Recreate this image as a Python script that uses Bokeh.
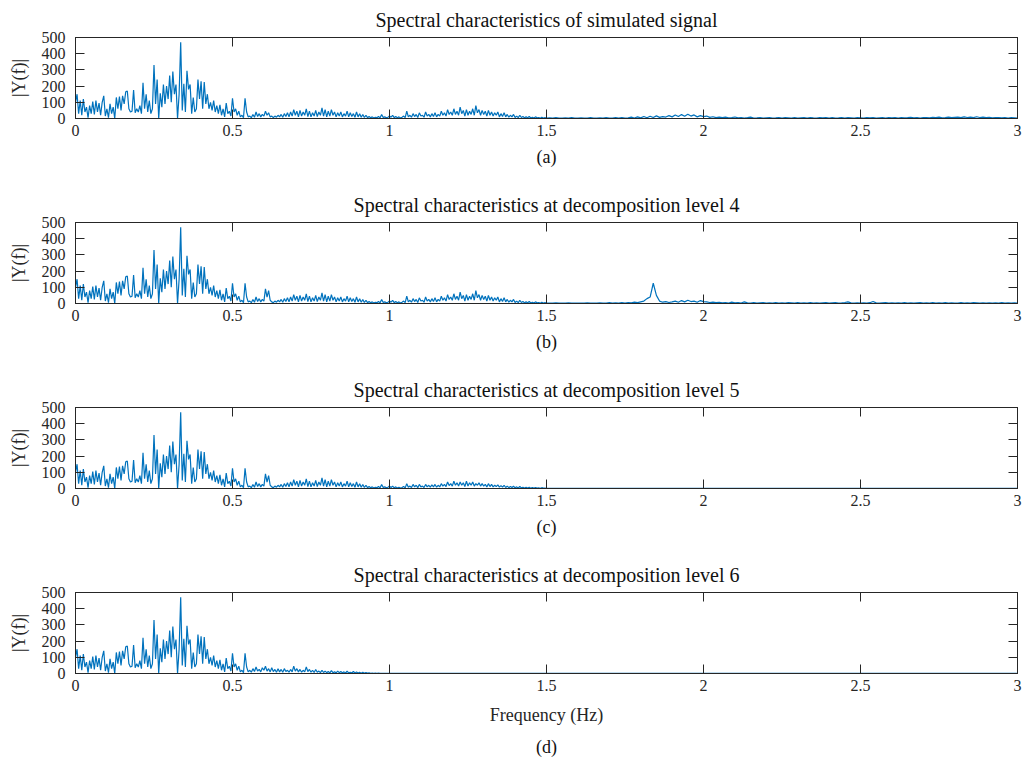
import numpy as np
from bokeh.plotting import figure
from bokeh.layouts import column
from bokeh.models import LinearAxis, Title, FixedTicker, Range1d
from bokeh.embed import file_html
from bokeh.resources import INLINE

# ---------------- data (|Y(f)|) ----------------
# 0.000 .. 0.550 Hz, step 0.005 (shared by all panels)
LOW = [100, 150, 30, 110, 20, 120, 40, 70, 5, 80,
       30, 105, 25, 110, 40, 95, 20, 100, 140, 15,
       60, 5, 90, 30, 70, 0, 130, 60, 135, 50,
       140, 90, 165, 170, 60, 40, 45, 175, 35, 60,
       40, 80, 30, 220, 60, 150, 40, 110, 30, 60,
       330, 90, 240, 0, 155, 70, 210, 90, 200, 120,
       265, 100, 290, 150, 210, 0, 150, 470, 50, 215,
       40, 295, 180, 210, 30, 130, 40, 60, 240, 120,
       230, 60, 225, 90, 150, 60, 100, 50, 110, 40,
       80, 30, 85, 20, 60, 10, 95, 30, 45, 15,
       125, 40, 60, 20, 45, 10, 20, 5, 125, 40,
       10]
# 0.555 .. 0.650 Hz
MID_HEAD_A = [15, 5, 25, 8, 40, 12, 30, 10, 25, 15, 45, 20, 35, 10, 15, 5, 15, 8, 20, 10]
MID_HEAD_BC = [15, 5, 25, 8, 40, 12, 30, 10, 25, 15, 90, 40, 80, 20, 10, 5, 15, 8, 20, 10]
# 0.655 .. 1.000 Hz (panels a, b, c)
MID_SHARED = [25, 8, 30, 12, 35, 10, 40, 15, 55, 20,
              45, 10, 50, 15, 40, 20, 60, 12, 45, 10,
              35, 15, 50, 12, 40, 20, 65, 15, 55, 10,
              45, 15, 55, 20, 40, 10, 35, 15, 40, 10,
              30, 15, 45, 10, 35, 12, 30, 8, 40, 10,
              30, 8, 25, 6, 20, 5, 12, 5, 10, 3,
              8, 5, 12, 4, 25, 6, 10, 5, 8, 15]
# 0.555 .. 1.000 Hz (panel d)
MID_D = [20, 8, 30, 12, 40, 15, 25, 10, 35, 20,
         45, 15, 30, 10, 35, 12, 25, 8, 30, 10,
         25, 8, 30, 12, 20, 8, 25, 10, 45, 15,
         30, 10, 25, 8, 20, 10, 40, 12, 25, 8,
         20, 6, 25, 8, 15, 5, 20, 6, 15, 5,
         12, 4, 18, 5, 10, 4, 15, 5, 12, 4,
         10, 3, 14, 4, 8, 3, 12, 3, 9, 3,
         7, 2, 8, 2, 5, 2, 4, 1, 3, 1,
         2, 1, 2, 1, 1, 1, 1, 0.5, 1, 0.5]
# 1.005 .. 1.500 Hz, step 0.005
HIGH_AB = [8, 20, 5, 12, 4, 10, 3, 8, 15, 5,
           45, 10, 20, 8, 30, 12, 25, 6, 35, 15,
           20, 8, 40, 15, 25, 10, 30, 12, 35, 10,
           25, 15, 45, 20, 35, 15, 55, 25, 40, 20,
           60, 25, 45, 20, 70, 30, 50, 15, 55, 20,
           45, 25, 60, 20, 80, 35, 55, 20, 50, 25,
           45, 15, 50, 20, 40, 15, 35, 20, 40, 10,
           30, 12, 35, 10, 25, 8, 20, 10, 25, 6,
           15, 5, 20, 6, 12, 4, 10, 5, 12, 3,
           8, 3, 10, 4, 6, 2, 8, 3, 5, 2]
HIGH_C = [6, 15, 4, 10, 3, 8, 3, 6, 12, 4,
          30, 8, 15, 6, 25, 10, 20, 5, 25, 10,
          15, 6, 25, 10, 20, 8, 22, 10, 25, 8,
          20, 10, 30, 15, 25, 12, 40, 18, 30, 15,
          45, 20, 35, 15, 40, 20, 35, 12, 45, 15,
          35, 20, 40, 15, 30, 20, 35, 15, 30, 15,
          25, 10, 30, 12, 25, 10, 20, 12, 22, 8,
          18, 8, 20, 6, 15, 5, 12, 6, 14, 4,
          10, 3, 12, 4, 8, 3, 7, 3, 8, 2,
          5, 2, 6, 2, 4, 1, 5, 2, 3, 1]
HIGH_D = [1.5, 0.8, 1.2, 0.6, 1.0, 1.4, 0.7, 1.1, 0.5, 0.9,
          0.8, 1.2, 0.6, 1.0, 0.7, 1.3, 0.5, 0.9, 1.1, 0.6,
          1.0, 0.6, 1.2, 0.8, 0.5, 1.1, 0.7, 0.9, 1.3, 0.6,
          0.9, 1.2, 0.5, 0.8, 1.0, 0.6, 1.2, 0.7, 0.9, 0.5,
          1.1, 0.7, 0.9, 1.3, 0.6, 0.8, 1.0, 0.5, 1.2, 0.8,
          0.6, 1.0, 0.7, 1.2, 0.9, 0.5, 1.1, 0.8, 0.6, 1.0,
          0.8, 1.2, 0.6, 0.9, 1.1, 0.7, 0.5, 1.0, 0.8, 1.2,
          0.7, 0.9, 1.1, 0.6, 1.0, 0.8, 1.3, 0.5, 0.9, 0.7,
          1.0, 0.6, 0.8, 1.2, 0.7, 0.9, 0.5, 1.1, 0.8, 0.6,
          0.9, 1.1, 0.7, 0.5, 1.0, 0.8, 0.6, 1.2, 0.7, 0.9]
# 1.51 .. 3.00 Hz, step 0.01
TAIL_A = [4, 2, 5, 3, 2, 4, 3, 6, 2, 3,
          4, 2, 3, 5, 2, 3, 4, 2, 5, 3,
          3, 5, 2, 6, 3, 4, 8, 3, 10, 4,
          12, 5, 14, 6, 16, 7, 12, 9, 18, 10,
          22, 12, 24, 14, 26, 15, 22, 10, 18, 12,
          15, 7, 11, 5, 9, 5, 8, 4, 6, 9,
          4, 6, 3, 5, 8, 3, 4, 6, 3, 4,
          5, 3, 4, 6, 3, 5, 4, 3, 6, 3,
          4, 5, 3, 6, 4, 3, 5, 4, 6, 3,
          5, 3, 4, 6, 3, 5, 4, 3, 5, 4,
          3, 5, 4, 6, 3, 4, 5, 3, 6, 4,
          5, 3, 6, 4, 5, 7, 4, 6, 3, 5,
          6, 4, 7, 5, 8, 4, 6, 9, 5, 7,
          8, 5, 10, 6, 9, 5, 11, 6, 8, 5,
          7, 4, 6, 5, 4, 6, 3, 5, 4, 3]
TAIL_B = [3, 2, 4, 2, 3, 2, 4, 3, 2, 3,
          3, 2, 4, 3, 2, 3, 4, 2, 3, 5,
          3, 4, 2, 5, 3, 6, 4, 8, 5, 10,
          15, 30, 40, 125, 50, 15, 8, 12, 6, 10,
          15, 8, 18, 10, 20, 12, 15, 8, 18, 12,
          10, 6, 8, 5, 7, 4, 6, 3, 8, 4,
          5, 3, 10, 4, 3, 5, 3, 4, 5, 3,
          4, 3, 5, 3, 4, 3, 5, 4, 3, 5,
          3, 4, 3, 5, 3, 4, 3, 4, 5, 3,
          4, 5, 3, 4, 6, 10, 4, 3, 4, 3,
          4, 3, 5, 12, 4, 3, 4, 5, 3, 4,
          3, 4, 3, 5, 3, 4, 3, 4, 5, 3,
          4, 3, 5, 3, 4, 3, 5, 3, 4, 3,
          3, 5, 3, 4, 3, 5, 4, 3, 4, 3,
          4, 3, 4, 3, 5, 3, 4, 3, 4, 3]
TAIL_CD = [1.2, 0.6, 1.0, 0.8, 1.4, 0.5, 0.9, 1.1, 0.7, 1.0,
           0.6, 1.2, 0.8, 0.5, 1.1, 0.9, 0.7, 1.3, 0.6, 0.8,
           1.0, 0.7, 1.2, 0.5, 0.9, 1.1, 0.6, 0.8, 1.0, 0.7,
           1.3, 0.6, 0.9, 1.1, 0.5, 0.8, 1.2, 0.7, 1.0, 0.6,
           0.9, 1.2, 0.7, 0.5, 1.0, 0.8, 1.1, 0.6, 0.9, 1.3,
           0.7, 1.0, 0.6, 1.2, 0.8, 0.5, 1.1, 0.9, 0.7, 1.0,
           0.6, 0.8, 1.2, 0.7, 1.0, 0.5, 0.9, 1.1, 0.6, 0.8,
           1.2, 0.7, 0.9, 1.0, 0.6, 1.3, 0.8, 0.5, 1.0, 0.7,
           0.9, 1.1, 0.6, 0.8, 1.2, 0.7, 1.0, 0.5, 0.9, 1.1,
           0.7, 0.6, 1.0, 1.2, 0.8, 0.9, 0.5, 1.1, 0.7, 1.0,
           0.8, 1.2, 0.6, 0.9, 1.0, 0.7, 1.3, 0.5, 0.8, 1.1,
           0.6, 1.0, 0.8, 1.2, 0.7, 0.9, 0.5, 1.1, 1.0, 0.6,
           0.9, 0.7, 1.2, 0.8, 1.0, 0.6, 1.1, 0.5, 0.9, 1.3,
           0.7, 1.0, 0.8, 0.6, 1.2, 0.9, 0.7, 1.1, 0.5, 1.0,
           0.8, 0.6, 1.0, 1.2, 0.7, 0.9, 1.1, 0.6, 0.8, 1.0]

TITLES = ["Spectral characteristics of simulated signal",
          "Spectral characteristics at decomposition level 4",
          "Spectral characteristics at decomposition level 5",
          "Spectral characteristics at decomposition level 6"]
CAPTIONS = ["(a)", "(b)", "(c)", "(d)"]
X_TICKS = [0, 0.5, 1, 1.5, 2, 2.5, 3]
X_LABELS = ["0", "0.5", "1", "1.5", "2", "2.5", "3"]
Y_TICKS = [0, 100, 200, 300, 400, 500]

freq = np.concatenate([np.arange(111) * 0.005,
                       0.555 + np.arange(90) * 0.005,
                       1.005 + np.arange(100) * 0.005,
                       1.51 + np.arange(150) * 0.01])
SERIES = [LOW + MID_HEAD_A + MID_SHARED + HIGH_AB + TAIL_A,
          LOW + MID_HEAD_BC + MID_SHARED + HIGH_AB + TAIL_B,
          LOW + MID_HEAD_BC + MID_SHARED + HIGH_C + TAIL_CD,
          LOW + MID_D + HIGH_D + TAIL_CD]

FONT = "Liberation Serif"
AX = "#262626"
LINE = "#0072BD"


def style_axis(ax):
    ax.axis_line_color = AX
    ax.axis_line_width = 1
    ax.major_tick_line_color = AX
    ax.major_tick_in = 9
    ax.major_tick_out = 0
    ax.minor_tick_line_color = None
    ax.major_label_text_font = FONT
    ax.major_label_text_color = AX
    ax.major_label_text_font_size = "16px"


figs = []
borders = [(37, 67), (37, 67), (37, 67), (37, 90)]
for k in range(4):
    top, bottom = borders[k]
    p = figure(frame_width=942, frame_height=81,
               x_range=Range1d(0, 3), y_range=Range1d(0, 500),
               output_backend="svg", toolbar_location=None,
               min_border_left=75, min_border_right=10,
               min_border_top=top, min_border_bottom=bottom,
               background_fill_color="white", border_fill_color="white")
    p.grid.visible = False
    p.outline_line_color = AX
    p.title.text = TITLES[k]
    p.title.align = "center"
    p.title.text_font = FONT
    p.title.text_font_size = "20px"
    p.title.text_font_style = "normal"
    p.title.text_color = "#111111"
    p.title.standoff = 13

    p.line(freq, SERIES[k], line_color=LINE, line_width=1.2)

    bottom_ax = p.xaxis[0]
    left_ax = p.yaxis[0]
    bottom_ax.ticker = FixedTicker(ticks=X_TICKS)
    bottom_ax.major_label_overrides = dict(zip(X_TICKS, X_LABELS))
    bottom_ax.major_label_standoff = 6
    left_ax.ticker = FixedTicker(ticks=Y_TICKS)
    left_ax.major_label_standoff = 10
    left_ax.axis_label = "|Y(f)|"
    left_ax.axis_label_text_font = FONT
    left_ax.axis_label_text_font_size = "18px"
    left_ax.axis_label_text_font_style = "normal"
    left_ax.axis_label_text_color = AX
    left_ax.axis_label_standoff = 10
    style_axis(bottom_ax)
    style_axis(left_ax)

    top_ax = LinearAxis(ticker=FixedTicker(ticks=X_TICKS),
                        major_label_overrides={t: "" for t in X_TICKS})
    right_ax = LinearAxis(ticker=FixedTicker(ticks=Y_TICKS),
                          major_label_overrides={t: "" for t in Y_TICKS})
    style_axis(top_ax)
    style_axis(right_ax)
    top_ax.major_label_standoff = 0
    right_ax.major_label_standoff = 0
    p.add_layout(top_ax, "above")
    p.add_layout(right_ax, "right")

    if k == 3:
        bottom_ax.axis_label = "Frequency (Hz)"
        bottom_ax.axis_label_text_font = FONT
        bottom_ax.axis_label_text_font_size = "18px"
        bottom_ax.axis_label_text_font_style = "normal"
        bottom_ax.axis_label_text_color = AX
        bottom_ax.axis_label_standoff = 11

    cap = Title(text=CAPTIONS[k], align="center", text_font=FONT,
                text_font_size="18px", text_font_style="normal",
                text_color="#111111", standoff=(14 if k == 3 else 12))
    p.add_layout(cap, "below")
    figs.append(p)

layout = column(*figs, spacing=0)
open("out.html", "w").write(file_html(layout, INLINE))
